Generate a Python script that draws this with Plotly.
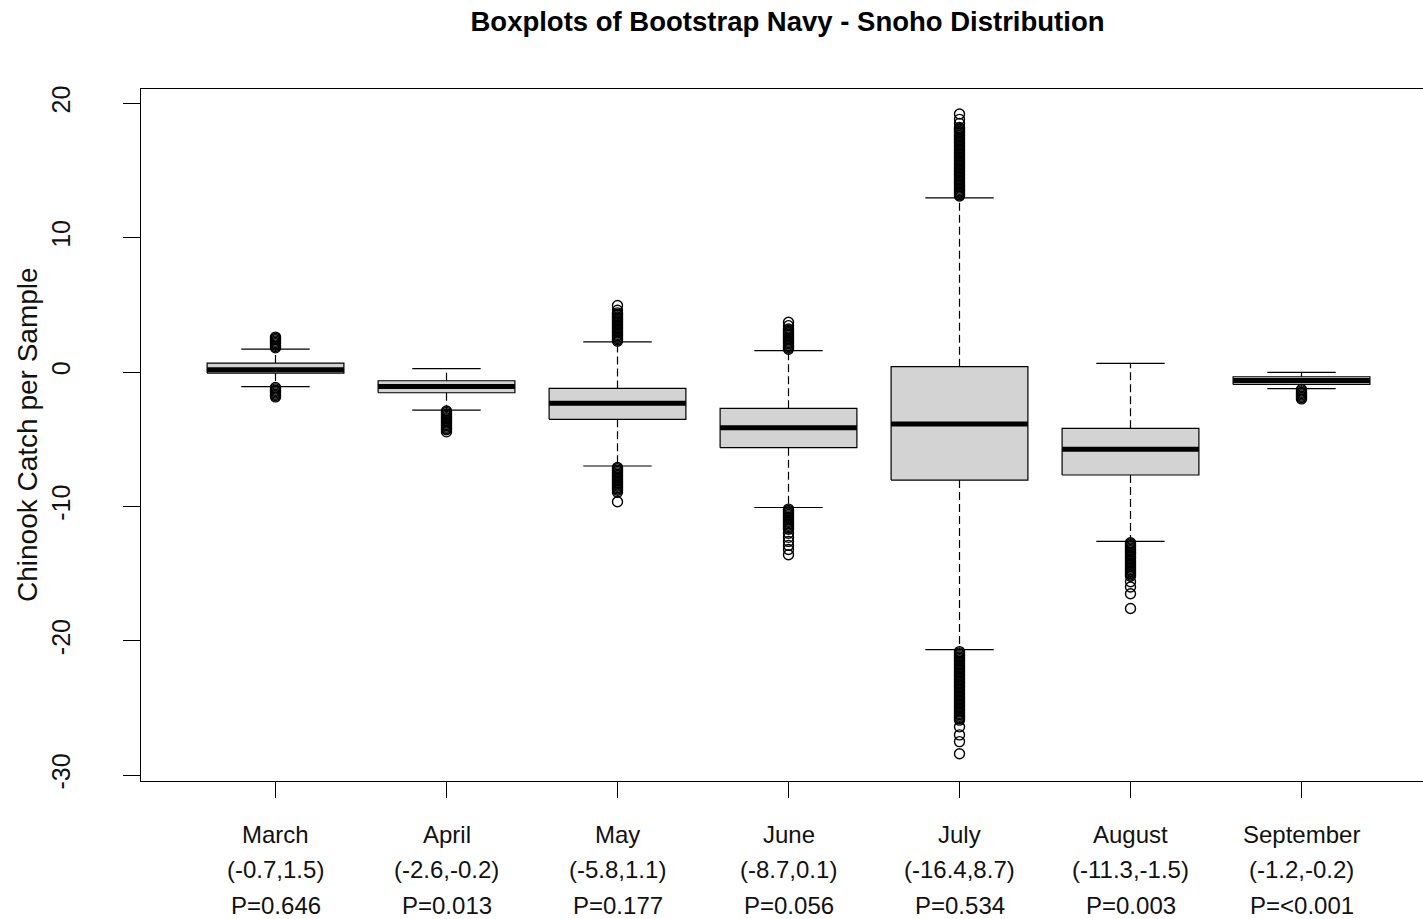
import plotly.graph_objects as go

# ---------------- data ----------------
months = ["March", "April", "May", "June", "July", "August", "September"]
ci_labels = ["(-0.7,1.5)", "(-2.6,-0.2)", "(-5.8,1.1)", "(-8.7,0.1)",
             "(-16.4,8.7)", "(-11.3,-1.5)", "(-1.2,-0.2)"]
p_labels = ["P=0.646", "P=0.013", "P=0.177", "P=0.056",
            "P=0.534", "P=0.003", "P=<0.001"]

q1 = [-0.08, -1.54, -3.52, -5.63, -8.04, -7.66, -0.92]
medians = [0.17, -1.07, -2.33, -4.14, -3.87, -5.75, -0.63]
q3 = [0.67, -0.65, -1.22, -2.70, 0.40, -4.19, -0.35]
whisker_low = [-1.09, -2.83, -6.99, -10.08, -20.65, -12.60, -1.23]
whisker_high = [1.71, 0.25, 2.25, 1.59, 12.96, 0.65, -0.02]

out_march = [1.8, 1.9, 2.0, 2.1, 2.2, 2.3, 2.4, 2.5, 2.6,
             -1.15, -1.25, -1.35, -1.45, -1.55, -1.65, -1.75, -1.85]
out_april = [-2.9, -3.0, -3.1, -3.2, -3.3, -3.4, -3.5, -3.6, -3.7, -3.8,
             -3.9, -4.0, -4.1, -4.2, -4.3, -4.45]
out_may = [2.3, 2.4, 2.5, 2.6, 2.7, 2.8, 2.9, 3.0, 3.1, 3.2, 3.3, 3.4, 3.5,
           3.6, 3.7, 3.8, 3.9, 4.0, 4.1, 4.2, 4.3, 4.4, 4.6, 4.95,
           -7.1, -7.2, -7.3, -7.4, -7.5, -7.6, -7.7, -7.8, -7.9, -8.0, -8.1,
           -8.2, -8.3, -8.4, -8.5, -8.6, -8.7, -8.8, -8.95, -9.65]
out_june = [1.7, 1.8, 1.9, 2.0, 2.1, 2.2, 2.3, 2.4, 2.5, 2.6, 2.7, 2.8, 2.9,
            3.0, 3.1, 3.2, 3.45, 3.7,
            -10.2, -10.3, -10.4, -10.5, -10.6, -10.7, -10.8, -10.9, -11.0,
            -11.1, -11.2, -11.3, -11.4, -11.5, -11.6, -11.7, -12.0, -12.3,
            -12.6, -12.9, -13.2, -13.6]
out_july = [13.1, 13.2, 13.3, 13.4, 13.5, 13.6, 13.7, 13.8, 13.9, 14.0,
            14.1, 14.2, 14.3, 14.4, 14.5, 14.6, 14.7, 14.8, 14.9, 15.0,
            15.1, 15.2, 15.3, 15.4, 15.5, 15.6, 15.7, 15.8, 15.9, 16.0,
            16.1, 16.2, 16.3, 16.4, 16.5, 16.6, 16.7, 16.8, 16.9, 17.0,
            17.1, 17.2, 17.3, 17.4, 17.5, 17.6, 17.7, 17.8, 17.9, 18.0,
            18.1, 18.2, 18.5, 18.8, 19.2,
            -20.8, -20.9, -21.0, -21.1, -21.2, -21.3, -21.4, -21.5, -21.6,
            -21.7, -21.8, -21.9, -22.0, -22.1, -22.2, -22.3, -22.4, -22.5,
            -22.6, -22.7, -22.8, -22.9, -23.0, -23.1, -23.2, -23.3, -23.4,
            -23.5, -23.6, -23.7, -23.8, -23.9, -24.0, -24.1, -24.2, -24.3,
            -24.4, -24.5, -24.6, -24.7, -24.8, -24.9, -25.0, -25.1, -25.2,
            -25.3, -25.4, -25.5, -25.6, -25.7, -25.8, -25.9,
            -26.4, -27.0, -27.5, -28.4]
out_august = [-12.7, -12.8, -12.9, -13.0, -13.1, -13.2, -13.3, -13.4, -13.5,
              -13.6, -13.7, -13.8, -13.9, -14.0, -14.1, -14.2, -14.3, -14.4,
              -14.5, -14.6, -14.7, -14.8, -14.9, -15.0, -15.1, -15.2,
              -15.6, -16.0, -16.5, -17.6]
out_september = [-1.3, -1.4, -1.5, -1.6, -1.7, -1.8, -1.9, -2.0]

outliers = [out_march, out_april, out_may, out_june, out_july, out_august, out_september]

y_ticks = [-30, -20, -10, 0, 10, 20]
y_tick_text = ["-30", "-20", "-10", "0", "10", "20"]

# ---------------- drawing ----------------
BOX_HALF = 0.4
STAPLE_HALF = 0.2
FONT = "Liberation Sans, Arial, sans-serif"
LW = 1.2

fig = go.Figure()
for i in range(len(months)):
    # dashed whiskers
    fig.add_trace(go.Scatter(
        x=[i, i, None, i, i],
        y=[q3[i], whisker_high[i], None, q1[i], whisker_low[i]],
        mode="lines", line=dict(color="black", width=LW, dash="8px,4px"),
        hoverinfo="skip", showlegend=False))
    # staples
    fig.add_trace(go.Scatter(
        x=[i - STAPLE_HALF, i + STAPLE_HALF, None, i - STAPLE_HALF, i + STAPLE_HALF],
        y=[whisker_high[i], whisker_high[i], None, whisker_low[i], whisker_low[i]],
        mode="lines", line=dict(color="black", width=LW),
        hoverinfo="skip", showlegend=False))
    # box
    fig.add_trace(go.Scatter(
        x=[i - BOX_HALF, i + BOX_HALF, i + BOX_HALF, i - BOX_HALF, i - BOX_HALF],
        y=[q1[i], q1[i], q3[i], q3[i], q1[i]],
        mode="lines", fill="toself", fillcolor="#D3D3D3",
        line=dict(color="black", width=LW),
        hoverinfo="skip", showlegend=False))
    # median
    fig.add_trace(go.Scatter(
        x=[i - BOX_HALF, i + BOX_HALF], y=[medians[i], medians[i]],
        mode="lines", line=dict(color="black", width=5),
        hoverinfo="skip", showlegend=False))
    # outliers
    fig.add_trace(go.Scatter(
        x=[i] * len(outliers[i]), y=outliers[i], mode="markers",
        marker=dict(symbol="circle-open", size=10, color="black",
                    line=dict(width=1.4, color="black")),
        hoverinfo="skip", showlegend=False))

# x-axis labels (three lines under each tick)
for i in range(len(months)):
    for text, shift in ((months[i], -53), (ci_labels[i], -88), (p_labels[i], -124)):
        fig.add_annotation(x=i, xref="x", y=0, yref="paper", text=text,
                           showarrow=False, xanchor="center", yanchor="middle",
                           yshift=shift, font=dict(family=FONT, size=24, color="#111111"))

# y-axis title
fig.add_annotation(x=0, xref="paper", y=0.5, yref="paper",
                   text="Chinook Catch per Sample", textangle=-90,
                   showarrow=False, xanchor="center", yanchor="middle",
                   xshift=-114, font=dict(family=FONT, size=28, color="#111111"))

fig.update_layout(
    width=1423, height=919,
    margin=dict(l=141, r=0, t=89, b=138),
    plot_bgcolor="white", paper_bgcolor="white",
    showlegend=False,
    font=dict(family=FONT, size=24, color="#111111"),
    title=dict(text="<b>Boxplots of Bootstrap Navy - Snoho Distribution</b>",
               xref="container", x=787.5 / 1423, xanchor="center",
               yref="container", y=1 - 21 / 919, yanchor="middle",
               font=dict(family=FONT, size=27.5, color="black")),
    xaxis=dict(range=[-0.78655, 6.7105], tickvals=list(range(len(months))),
               showticklabels=False, ticks="outside", ticklen=16, tickwidth=1,
               tickcolor="black", showline=True, linecolor="black", linewidth=1,
               mirror=True, showgrid=False, zeroline=False),
    yaxis=dict(range=[-30.43, 21.06], tickvals=y_ticks, ticktext=y_tick_text,
               ticks="outside", ticklen=17, tickwidth=1, tickcolor="black",
               tickangle=-90, tickfont=dict(family=FONT, size=25, color="#111111"),
               ticklabelstandoff=43,
               showline=True, linecolor="black", linewidth=1, mirror=False,
               showgrid=False, zeroline=False),
)

fig.write_html("out.html")
